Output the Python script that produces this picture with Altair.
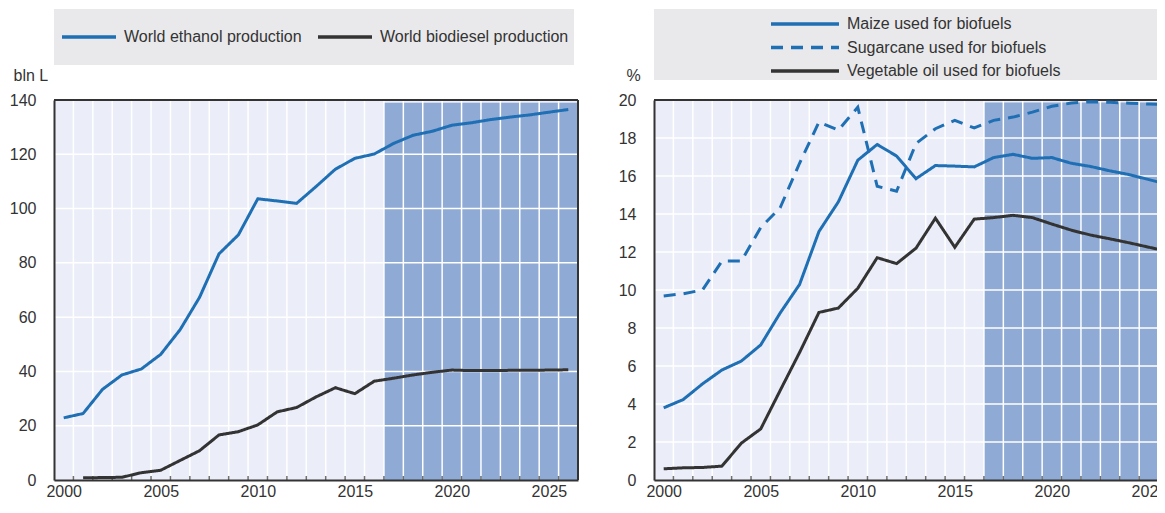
import altair as alt
import pandas as pd

# ---------------- data ----------------
years = list(range(2000, 2027))
first_projection_year = 2017

ethanol = [22.9, 24.5, 33.4, 38.7, 40.9, 46.3, 55.4, 67.3, 83.3, 90.3, 103.6, 102.8, 101.9,
           108.1, 114.5, 118.5, 120.1, 124.0, 127.0, 128.5, 130.7, 131.6, 132.8, 133.7,
           134.5, 135.5, 136.5]
biodiesel = [None, 0.8, 0.9, 1.0, 2.7, 3.6, 7.2, 10.8, 16.6, 17.8, 20.3, 25.1, 26.7,
             30.6, 34.0, 31.8, 36.4, 37.5, 38.7, 39.7, 40.5, 40.3, 40.3, 40.4, 40.4,
             40.5, 40.6]

maize = [3.80, 4.23, 5.06, 5.79, 6.26, 7.11, 8.79, 10.29, 13.08, 14.64, 16.83, 17.66, 17.05,
         15.86, 16.55, 16.52, 16.48, 16.97, 17.14, 16.93, 16.97, 16.67, 16.50, 16.27,
         16.07, 15.81, 15.55]
sugarcane = [9.69, 9.80, 10.00, 11.52, 11.52, 13.29, 14.33, 16.67, 18.84, 18.41, 19.62,
             15.46, 15.20, 17.71, 18.49, 18.93, 18.53, 18.93, 19.10, 19.36, 19.67, 19.84,
             19.91, 19.88, 19.83, 19.79, 19.76]
vegoil = [0.59, 0.64, 0.66, 0.73, 1.94, 2.69, 4.71, 6.71, 8.82, 9.05, 10.09, 11.70, 11.39,
          12.20, 13.78, 12.25, 13.73, 13.81, 13.93, 13.81, 13.47, 13.15, 12.89, 12.69,
          12.48, 12.25, 12.03]

left_series = ["World ethanol production", "World biodiesel production"]
right_series = ["Maize used for biofuels", "Sugarcane used for biofuels",
                "Vegetable oil used for biofuels"]
left_ticks = [0, 20, 40, 60, 80, 100, 120, 140]
right_ticks = [0, 2, 4, 6, 8, 10, 12, 14, 16, 18, 20]
label_years = [2000, 2005, 2010, 2015, 2020, 2025]
left_shade_top = 139.0
right_shade_top = 19.87

# ---------------- style ----------------
FONT = "Liberation Sans"
TEXT = "#333333"
BLUE = "#1f6fb4"
DARK = "#333333"
BG = "#ebeef8"
SHADE = "#8faad4"
BOXFILL = "#e9e9eb"
W = 524
H = 380


def long_df(series, arrays):
    rows = []
    for name, arr in zip(series, arrays):
        for yr, v in zip(years, arr):
            rows.append({"year": yr, "value": v, "series": name})
    return pd.DataFrame(rows)


left_df = long_df(left_series, [ethanol, biodiesel])
right_df = long_df(right_series, [maize, sugarcane, vegoil])


def panel(df, series, colors, dashes, y_ticks, y_title, title_x, shade_top):
    x0 = years[0] - 0.5
    x_full = years[-1] + 0.5
    x_scale = alt.Scale(domain=[x0, x_full], nice=False, zero=False)
    y_scale = alt.Scale(domain=[y_ticks[0], y_ticks[-1]], nice=False, zero=True)

    x_axis = alt.Axis(values=label_years, format="d", ticks=False, grid=False,
                      domain=True, domainColor=DARK, domainWidth=2,
                      labelPadding=3, title=None, labelFlush=False,
                      labelOverlap=False, zindex=1)
    y_axis = alt.Axis(values=y_ticks, ticks=False, grid=False, domain=True,
                      domainColor=DARK, domainWidth=2, labelPadding=18,
                      title=y_title, titleAngle=0, titleAlign="left",
                      titleBaseline="middle", titleX=title_x, titleY=-25, zindex=1)

    shade_df = pd.DataFrame([{"x": first_projection_year - 0.5, "x2": x_full,
                              "y": y_ticks[0], "y2": shade_top}])
    bounds = [y + 0.5 for y in years[:-1]]
    vgrid_df = pd.DataFrame({"x": bounds, "y": [y_ticks[0]] * len(bounds)})
    hgrid_df = pd.DataFrame({"y": y_ticks[1:-1]})
    top_df = pd.DataFrame({"y": [y_ticks[-1]]})
    right_edge_df = pd.DataFrame({"x": [x_full]})

    X = lambda f: alt.X(f, scale=x_scale, axis=x_axis)
    Y = lambda f: alt.Y(f, scale=y_scale, axis=y_axis)

    shade = alt.Chart(shade_df).mark_rect(color=SHADE).encode(
        x=X("x:Q"), x2="x2:Q", y=Y("y:Q"), y2="y2:Q")
    vgrid = alt.Chart(vgrid_df).mark_rule(color="white", strokeWidth=1.5).encode(
        x=X("x:Q"))
    hgrid = alt.Chart(hgrid_df).mark_rule(color="white", strokeWidth=1.5).encode(
        y=Y("y:Q"))
    ticks = alt.Chart(vgrid_df).mark_tick(color=DARK, size=4, thickness=1.5,
                                          yOffset=-2, orient="vertical").encode(
        x=X("x:Q"), y=Y("y:Q"))
    frame_top = alt.Chart(top_df).mark_rule(color=DARK, strokeWidth=2).encode(
        y=Y("y:Q"))
    frame_right = alt.Chart(right_edge_df).mark_rule(color=DARK, strokeWidth=2).encode(
        x=X("x:Q"))

    lines = alt.Chart(df).mark_line(strokeWidth=3).encode(
        x=X("year:Q"),
        y=Y("value:Q"),
        color=alt.Color("series:N", scale=alt.Scale(domain=series, range=colors),
                        legend=None),
        strokeDash=alt.StrokeDash("series:N",
                                  scale=alt.Scale(domain=series, range=dashes),
                                  legend=None),
    )

    return alt.layer(shade, vgrid, hgrid, ticks, frame_top, frame_right, lines).properties(
        width=W, height=H,
        view=alt.ViewBackground(fill=BG, strokeWidth=0),
    )


def legend_box(df, series, colors, dashes, width, height, direction, lx, ly, symlen):
    leg = alt.Legend(orient="none", legendX=lx, legendY=ly, direction=direction,
                     symbolType="stroke", symbolSize=symlen * symlen,
                     symbolStrokeWidth=3.5, symbolOpacity=1, labelFontSize=16,
                     labelFont=FONT, labelColor=TEXT, clipHeight=18, rowPadding=5.5,
                     columnPadding=14, labelOffset=6, padding=0, labelLimit=600)
    return alt.Chart(df).mark_line(opacity=0).encode(
        x=alt.X("year:Q", axis=None),
        y=alt.Y("value:Q", axis=None),
        color=alt.Color("series:N", title=None,
                        scale=alt.Scale(domain=series, range=colors), legend=leg),
        strokeDash=alt.StrokeDash("series:N", title=None,
                                  scale=alt.Scale(domain=series, range=dashes), legend=leg),
    ).properties(width=width, height=height,
                 view=alt.ViewBackground(fill=BOXFILL, strokeWidth=0))


left_colors = [BLUE, DARK]
left_dashes = [[1, 0], [1, 0]]
right_colors = [BLUE, BLUE, DARK]
right_dashes = [[1, 0], [12, 8], [1, 0]]

left_plot = panel(left_df, left_series, left_colors, left_dashes, left_ticks, "bln L", -41,
                  left_shade_top)
right_plot = panel(right_df, right_series, right_colors, right_dashes, right_ticks, "%", -28,
                   right_shade_top)

left_box = legend_box(left_df, left_series, left_colors, left_dashes, 520, 56,
                      "horizontal", 6, 19, 54)
right_box = legend_box(right_df, right_series, right_colors, right_dashes, W, 71,
                       "vertical", 115, 6, 68)

chart = alt.concat(left_box, right_box, left_plot, right_plot, columns=2,
                   spacing={"row": 20, "column": 76}, bounds="flush").resolve_scale(
    color="independent", strokeDash="independent").properties(
    autosize=alt.AutoSizeParams(type="none"),
    padding={"left": 46, "top": 1, "right": 1103, "bottom": 489},
    background="white",
).configure_axis(
    labelFont=FONT, labelFontSize=16, labelColor=TEXT,
    titleFont=FONT, titleFontSize=16, titleFontWeight="normal", titleColor=TEXT,
)

chart.save("out.html", embed_options={"renderer": "svg", "actions": False})
